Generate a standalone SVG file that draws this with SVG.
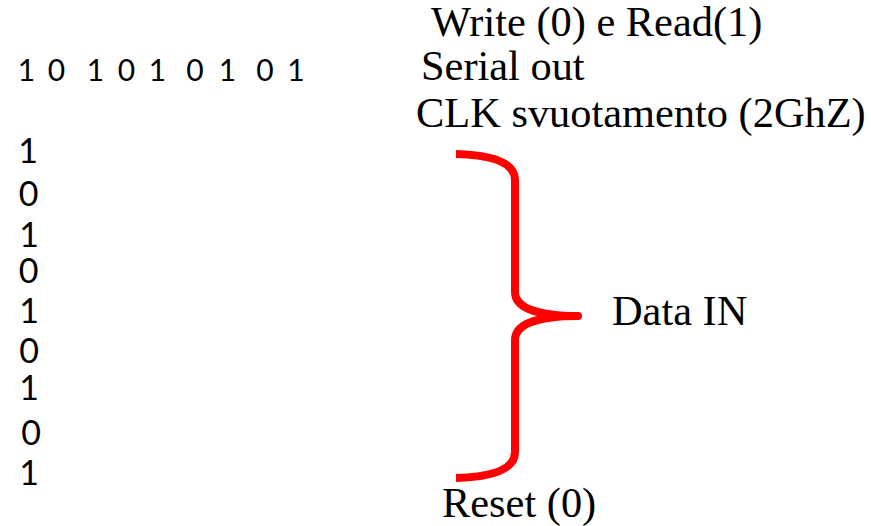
<svg xmlns="http://www.w3.org/2000/svg" width="871" height="526" viewBox="0 0 871 526">
  <defs>
    <linearGradient id="edgeFade" x1="0" y1="0" x2="0" y2="1">
      <stop offset="0" stop-color="#ff9c9c"/>
      <stop offset="0.5" stop-color="#ff3030"/>
      <stop offset="1" stop-color="#ff1010"/>
    </linearGradient>
  </defs>
  <style>
    .bit { font-family: Lato, "Open Sans", "Liberation Sans", sans-serif; fill: #000; text-anchor: middle; }
    .row { font-size: 30px; }
    .col { font-size: 34px; }
    .label { font-family: "Liberation Serif", "Times New Roman", serif; font-size: 42.4px; fill: #000; }
    .brace { fill: none; stroke: #ff0000; stroke-width: 8; stroke-linejoin: round; }
    .edge { stroke: url(#edgeFade); stroke-width: 2; stroke-dasharray: 21 7; }
  </style>
  <rect width="871" height="526" fill="#ffffff"/>

  <!-- dashed left border -->
  <g id="border">
    <line class="edge" x1="1" y1="29" x2="1" y2="526"/>
  </g>

  <!-- serial output word -->
  <g id="serial-bits" class="bit row">
    <text x="26.5" y="80.5">1</text>
    <text x="56.5" y="80.5">0</text>
    <text x="95.5" y="80.5">1</text>
    <text x="126.5" y="80.5">0</text>
    <text x="157.5" y="80.5">1</text>
    <text x="195" y="80.5">0</text>
    <text x="227.5" y="80.5">1</text>
    <text x="265" y="80.5">0</text>
    <text x="296" y="80.5">1</text>
  </g>

  <!-- parallel input bits -->
  <g id="parallel-bits" class="bit col">
    <text x="28" y="163">1</text>
    <text x="28.5" y="206">0</text>
    <text x="29" y="247">1</text>
    <text x="28.5" y="283">0</text>
    <text x="29" y="323">1</text>
    <text x="29" y="363">0</text>
    <text x="29" y="400">1</text>
    <text x="31" y="445">0</text>
    <text x="29" y="485">1</text>
  </g>

  <!-- control signals -->
  <g id="write-read">
    <text class="label" x="431" y="35.5">Write (0) e Read(1)</text>
  </g>
  <g id="serial-out">
    <text class="label" x="421" y="80">Serial out</text>
  </g>
  <g id="clk">
    <text class="label" x="416" y="126.5">CLK svuotamento (2GhZ)</text>
  </g>
  <g id="data-in">
    <text class="label" x="612" y="325">Data IN</text>
  </g>
  <g id="reset">
    <text class="label" x="442" y="516.5">Reset (0)</text>
  </g>

  <!-- brace grouping the input bits -->
  <g id="connectors">
    <path class="brace" d="M456 154 C492 155 515 162 515 180 L515 292 C515 308 538 316 578 316 C538 316 515 324 515 340 L515 452 C515 470 492 477 456 478"/>
  </g>
</svg>
